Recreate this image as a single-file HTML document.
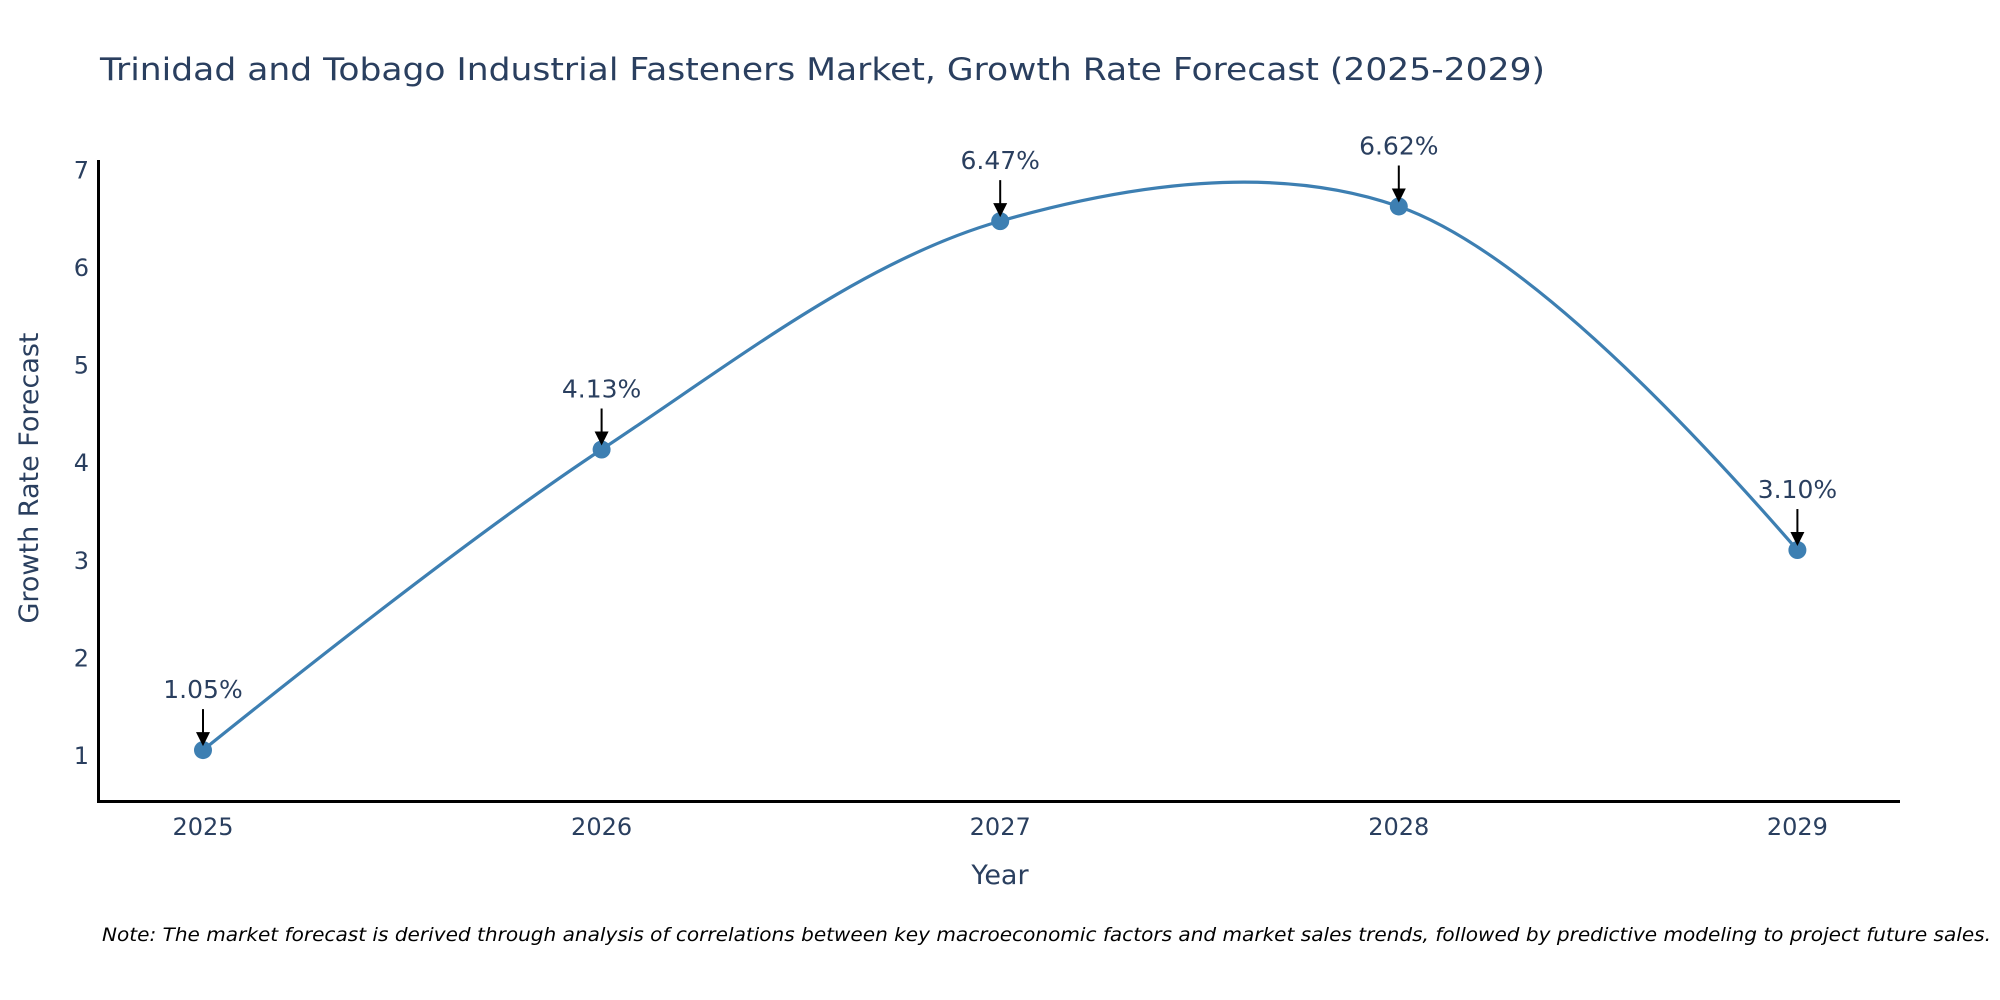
<!DOCTYPE html>
<html><head><meta charset="utf-8"><style>
html,body{margin:0;padding:0;background:#fff;}
svg{display:block;font-family:"DejaVu Sans","Liberation Sans",sans-serif;}
</style></head><body>
<svg id="chart" width="2000" height="1000" viewBox="0 0 2000 1000" xmlns="http://www.w3.org/2000/svg">
<text x="100" y="80" font-size="31" fill="#2a3f5f" textLength="1445" lengthAdjust="spacingAndGlyphs">Trinidad and Tobago Industrial Fasteners Market, Growth Rate Forecast (2025-2029)</text>
<g id="yticks"></g>
<g id="xticks"></g>
<line x1="98.5" y1="160" x2="98.5" y2="803" stroke="#000" stroke-width="3"/>
<line x1="97" y1="801.5" x2="1900" y2="801.5" stroke="#000" stroke-width="3"/>
<text transform="translate(38,478) rotate(-90)" text-anchor="middle" font-size="27" fill="#2a3f5f">Growth Rate Forecast</text>
<text x="1000" y="884" text-anchor="middle" font-size="27" fill="#2a3f5f">Year</text>
<g id="series"></g>
<g id="annots"></g>
<text x="102" y="941" font-size="19" font-style="italic" fill="#000" textLength="1889" lengthAdjust="spacingAndGlyphs">Note: The market forecast is derived through analysis of correlations between key macroeconomic factors and market sales trends, followed by predictive modeling to project future sales.</text>
</svg>
<script>
const years = [2025, 2026, 2027, 2028, 2029];
const values = [1.05, 4.13, 6.47, 6.62, 3.10];
const valueLabels = ["1.05%", "4.13%", "6.47%", "6.62%", "3.10%"];
const yTickValues = [1, 2, 3, 4, 5, 6, 7];

const NS = "http://www.w3.org/2000/svg";
function xScale(yr){ return 203 + (yr - 2025) * 398.6; }
function yScale(v){ return 755 - (v - 1) * 97.6; }
function mk(tag, attrs, parent){
  const e = document.createElementNS(NS, tag);
  for (const k in attrs) e.setAttribute(k, attrs[k]);
  parent.appendChild(e); return e;
}
const yt = document.getElementById('yticks');
yTickValues.forEach(v => {
  const t = mk('text', {x: 89, y: yScale(v) + 9, 'text-anchor': 'end', 'font-size': 24, fill: '#2a3f5f'}, yt);
  
  
  t.textContent = v;
});
const xt = document.getElementById('xticks');
years.forEach(y => {
  const t = mk('text', {x: xScale(y), y: 835, 'text-anchor': 'middle', 'font-size': 24, fill: '#2a3f5f'}, xt);
  
  
  t.textContent = y;
});
const pts = years.map((y, i) => [xScale(y), yScale(values[i])]);
function tangent(p, c, n, s){
  const d1x = p[0]-c[0], d1y = p[1]-c[1], d2x = n[0]-c[0], d2y = n[1]-c[1];
  const d1a = Math.pow(d1x*d1x + d1y*d1y, 0.25), d2a = Math.pow(d2x*d2x + d2y*d2y, 0.25);
  const nx = (d2a*d2a*d1x - d1a*d1a*d2x)*s, ny = (d2a*d2a*d1y - d1a*d1a*d2y)*s;
  const den1 = 3*d2a*(d1a+d2a), den2 = 3*d1a*(d1a+d2a);
  return [[c[0]+nx/den1, c[1]+ny/den1], [c[0]-nx/den2, c[1]-ny/den2]];
}
const tans = [];
for (let i = 1; i < pts.length - 1; i++) tans.push(tangent(pts[i-1], pts[i], pts[i+1], 1.0));
let d = 'M' + pts[0] + 'Q' + tans[0][0] + ' ' + pts[1];
for (let i = 2; i < pts.length - 1; i++) d += 'C' + tans[i-2][1] + ' ' + tans[i-1][0] + ' ' + pts[i];
d += 'Q' + tans[pts.length-3][1] + ' ' + pts[pts.length-1];
const series = document.getElementById('series');
const line = mk('path', {d: d, fill: 'none', stroke: '#3d7fb2', 'stroke-width': 3.2}, series);


pts.forEach(p => {
  const c = mk('circle', {cx: p[0], cy: p[1], r: 9, fill: '#3d7fb2'}, series);
  
  
});
const an = document.getElementById('annots');
pts.forEach((p, i) => {
  const l = mk('line', {x1: p[0], y1: p[1]-41, x2: p[0], y2: p[1]-14, stroke: '#000', 'stroke-width': 2}, an);
  
  
  const h = mk('path', {d: `M${p[0]-7},${p[1]-18} L${p[0]+7},${p[1]-18} L${p[0]},${p[1]-4} Z`, fill: '#000'}, an);
  
  
  const t = mk('text', {x: p[0], y: p[1]-52, 'text-anchor': 'middle', 'font-size': 25, fill: '#2a3f5f'}, an);
  
  
  t.textContent = valueLabels[i];
});
</script>
</body></html>
